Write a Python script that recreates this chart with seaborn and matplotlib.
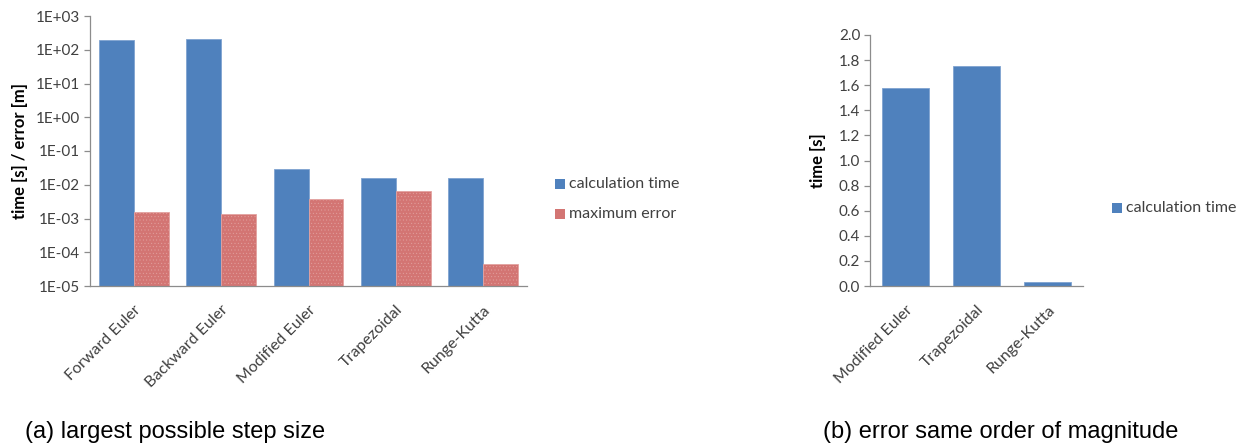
import numpy as np
import pandas as pd
import matplotlib
matplotlib.use("Agg")
import matplotlib.pyplot as plt
from matplotlib.ticker import FixedLocator, NullFormatter, FuncFormatter
import seaborn as sns

# Solver comparison data
methods_a = ["Forward Euler", "Backward Euler", "Modified Euler", "Trapezoidal", "Runge-Kutta"]
calc_time_a = [193.0, 210.0, 0.030, 0.0158, 0.0158]
max_error_a = [0.0016, 0.00135, 0.0038, 0.0065, 0.000045]

methods_b = ["Modified Euler", "Trapezoidal", "Runge-Kutta"]
calc_time_b = [1.58, 1.75, 0.03]

series_names = ["calculation time", "maximum error"]
caption_a = "(a) largest possible step size"
caption_b = "(b) error same order of magnitude"

sns.set_style("white")
plt.rcParams["font.family"] = ["Lato", "DejaVu Sans"]
plt.rcParams["hatch.linewidth"] = 0.3

BLUE = "#4F81BD"
RED = "#D37573"
AXIS = "#8C8C8C"
TXT = "#404040"
W, H = 1256, 443

df_a = pd.DataFrame({
    "method": methods_a * 2,
    "value": calc_time_a + max_error_a,
    "series": [series_names[0]] * len(methods_a) + [series_names[1]] * len(methods_a),
})
df_b = pd.DataFrame({"method": methods_b, "value": calc_time_b,
                     "series": [series_names[0]] * len(methods_b)})

fig = plt.figure(figsize=(W / 100, H / 100), dpi=100)


def px_axes(x0, x1, y0, y1):
    return fig.add_axes([x0 / W, 1 - y1 / H, (x1 - x0) / W, (y1 - y0) / H])


def style_axes(ax, ncat):
    for s in ["top", "right"]:
        ax.spines[s].set_visible(False)
    for s in ["left", "bottom"]:
        ax.spines[s].set_color(AXIS)
        ax.spines[s].set_linewidth(0.9)
    ax.set_xlim(-0.5, ncat - 0.5)
    ax.xaxis.set_minor_locator(FixedLocator(np.arange(-0.5, ncat, 1.0)))
    ax.tick_params(axis="x", which="major", length=0, pad=12)
    ax.tick_params(axis="x", which="minor", length=5, color=AXIS, width=0.9)
    ax.tick_params(axis="y", which="major", length=4, color=AXIS, width=0.9,
                   labelsize=11, labelcolor=TXT, left=True, pad=3)
    ax.tick_params(axis="y", which="minor", length=0)
    for lab in ax.get_xticklabels():
        lab.set_rotation(45)
        lab.set_ha("right")
        lab.set_rotation_mode("anchor")
        lab.set_fontsize(11.5)
        lab.set_color(TXT)
    ax.set_xlabel("")


def legend_entry(x, y, color, text, size=10):
    fig.patches.append(plt.Rectangle((x / W, 1 - (y + size / 2) / H), size / W, size / H,
                                     transform=fig.transFigure, facecolor=color,
                                     edgecolor="none"))
    fig.text((x + size + 4) / W, 1 - y / H, text, fontsize=11.5, color=TXT, va="center")


# Left panel: log-scale time and error
ax1 = px_axes(90, 527, 16, 286)
sns.barplot(data=df_a, x="method", y="value", hue="series", order=methods_a,
            hue_order=series_names, palette=[BLUE, RED], width=0.8,
            saturation=1, ax=ax1, legend=False, log_scale=(False, True))
ax1.set_yscale("log")
ax1.set_ylim(1e-5, 1e3)
ax1.yaxis.set_major_locator(FixedLocator([10.0 ** k for k in range(-5, 4)]))
ax1.yaxis.set_minor_formatter(NullFormatter())
ax1.yaxis.set_major_formatter(
    FuncFormatter(lambda v, p: "1E{:+03d}".format(int(round(np.log10(v))))))
for i, bar in enumerate(ax1.patches):
    if i < len(methods_a):
        bar.set_edgecolor("#7FA3D0")
        bar.set_linewidth(0.6)
    else:
        bar.set_edgecolor("#E3A3A1")
        bar.set_linewidth(0.6)
        bar.set_hatch(".....")
ax1.set_ylabel("time [s] / error [m]", fontsize=12, fontweight="bold", color="black",
               labelpad=6)
style_axes(ax1, len(methods_a))

legend_entry(555, 184, BLUE, series_names[0])
legend_entry(555, 214, RED, series_names[1])

# Right panel: linear time
ax2 = px_axes(870, 1083, 35, 286)
sns.barplot(data=df_b, x="method", y="value", order=methods_b, color=BLUE,
            width=0.66, saturation=1, ax=ax2)
for bar in ax2.patches:
    bar.set_edgecolor("#7FA3D0")
    bar.set_linewidth(0.6)
ax2.set_ylim(0, 2.0)
ax2.yaxis.set_major_locator(FixedLocator(np.arange(0, 2.01, 0.2)))
ax2.yaxis.set_major_formatter(FuncFormatter(lambda v, p: "{:.1f}".format(v)))
ax2.set_ylabel("time [s]", fontsize=12, fontweight="bold", color="black", labelpad=9)
style_axes(ax2, len(methods_b))

legend_entry(1112, 208, BLUE, series_names[0])

# Captions
fig.text(25 / W, 1 - 432 / H, caption_a, fontsize=17, family="Liberation Sans",
         color="black", va="center")
fig.text(823 / W, 1 - 432 / H, caption_b, fontsize=17, family="Liberation Sans",
         color="black", va="center")

fig.savefig("out.png", dpi=100)
